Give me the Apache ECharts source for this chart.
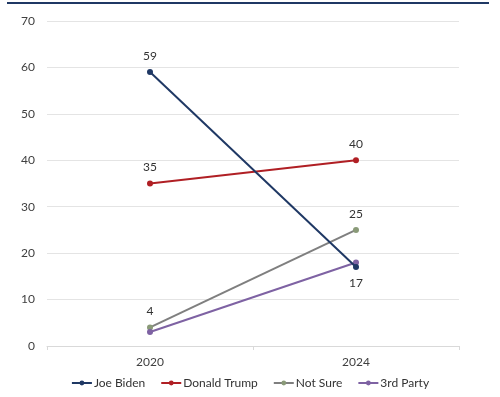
<!DOCTYPE html>
<html>
<head>
<meta charset="utf-8">
<script src="https://cdn.jsdelivr.net/npm/echarts@6/dist/echarts.min.js"></script>
<style>
  html, body { margin: 0; padding: 0; background: #fff; }
  #chart { width: 500px; height: 397px; }
</style>
</head>
<body>
<div id="chart"></div>
<script>
  const years = ["2020", "2024"];
  const seriesNames = ["Joe Biden", "Donald Trump", "Not Sure", "3rd Party"];
  const biden = [59, 17];
  const trump = [35, 40];
  const notSure = [4, 25];
  const thirdParty = [3, 18];
  // label position per point, null = no label
  const labelPos = [
    ["top", "bottom"],
    ["top", "top"],
    ["top", "top"],
    [null, null],
  ];
  const lineColors = ["#1f3864", "#b01f24", "#7f7f7f", "#7e62a3"];
  const dotColors = ["#1f3864", "#b01f24", "#8a9a78", "#7e62a3"];

  const font = "Lato, 'Open Sans', sans-serif";
  const allValues = [biden, trump, notSure, thirdParty];

  const chart = echarts.init(document.getElementById("chart"), null, { renderer: "canvas" });

  const series = allValues.map((vals, i) => ({
    name: seriesNames[i],
    type: "line",
    data: vals.map((v, j) => ({
      value: v,
      label: labelPos[i][j]
        ? { show: true, position: labelPos[i][j], distance: 7 }
        : { show: false },
    })),
    symbol: "circle",
    symbolSize: 6,
    lineStyle: { width: 2, color: lineColors[i] },
    itemStyle: { color: dotColors[i] },
    label: { color: "#333", fontSize: 12, fontFamily: font },
    z: i === 0 ? 5 : 3,
  }));

  chart.setOption({
    animation: false,
    textStyle: { fontFamily: font },
    graphic: [
      {
        type: "rect",
        shape: { x: 7, y: 2, width: 482, height: 2 },
        style: { fill: "#1f3864" },
      },
    ],
    grid: { left: 47, right: 41, top: 21, bottom: 51 },
    legend: {
      bottom: 3,
      left: "center",
      itemWidth: 20,
      itemHeight: 6,
      itemGap: 15,
      itemStyle: { borderWidth: 0 },
      textStyle: { color: "#333", fontSize: 12, fontFamily: font, padding: [0, 0, 0, -3] },
      data: seriesNames,
    },
    xAxis: {
      type: "category",
      data: years,
      boundaryGap: true,
      axisLine: { lineStyle: { color: "#d9d9d9" } },
      axisTick: { show: true, length: 4, lineStyle: { color: "#d9d9d9" } },
      axisLabel: { color: "#404040", fontSize: 12, margin: 10 },
    },
    yAxis: {
      type: "value",
      min: 0,
      max: 70,
      interval: 10,
      axisLine: { show: false },
      axisTick: { show: false },
      axisLabel: { color: "#404040", fontSize: 12, margin: 12 },
      splitLine: { lineStyle: { color: "#e4e4e4" } },
    },
    series,
  });
</script>
</body>
</html>
